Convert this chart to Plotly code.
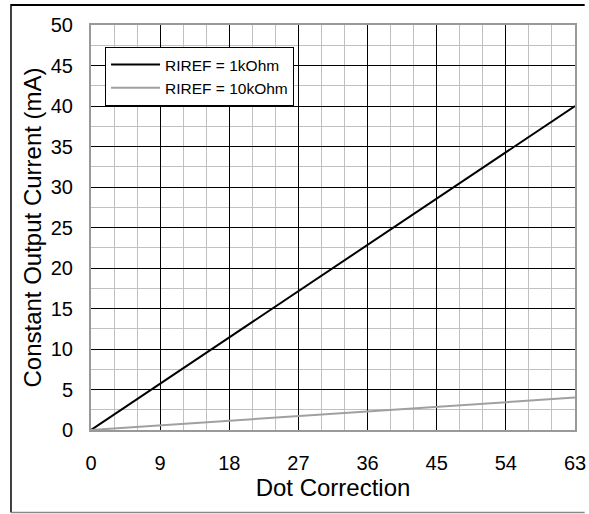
import plotly.graph_objects as go

dot_correction = [0, 63]
current_1k = [0, 40]
current_10k = [0, 4]
x_ticks = [0, 9, 18, 27, 36, 45, 54, 63]
y_ticks = [0, 5, 10, 15, 20, 25, 30, 35, 40, 45, 50]

fig = go.Figure()
fig.add_trace(go.Scatter(x=dot_correction, y=current_1k, mode="lines",
                         name="RIREF = 1kOhm", line=dict(color="#000000", width=2)))
fig.add_trace(go.Scatter(x=dot_correction, y=current_10k, mode="lines",
                         name="RIREF = 10kOhm", line=dict(color="#a0a0a0", width=2)))

font_main = "Liberation Sans, Arial, sans-serif"

fig.update_layout(
    width=589, height=514,
    margin=dict(l=91, r=14, t=25, b=84, autoexpand=False),
    paper_bgcolor="white", plot_bgcolor="white",
    font=dict(family=font_main, color="#000000", size=20),
    showlegend=True,
    legend=dict(x=0.029, y=0.9457, xanchor="left", yanchor="top",
                bgcolor="white", bordercolor="#000000", borderwidth=1,
                font=dict(family=font_main, size=15.5),
                itemwidth=49, tracegroupgap=0),
    xaxis=dict(range=[0, 63], tickvals=x_ticks, ticktext=[str(v) for v in x_ticks],
               showgrid=True, gridcolor="#000000", gridwidth=1,
               minor=dict(dtick=3, tick0=0, showgrid=True, gridcolor="#c0c0c0", gridwidth=1),
               showline=True, linecolor="#999999", linewidth=2, mirror=True,
               zeroline=False, ticks="", ticklabelstandoff=14,
               tickfont=dict(size=20), automargin=False,
               title=dict(text="Dot Correction", font=dict(size=24), standoff=6)),
    yaxis=dict(range=[0, 50], tickvals=y_ticks, ticktext=[str(v) for v in y_ticks],
               showgrid=True, gridcolor="#000000", gridwidth=1,
               minor=dict(dtick=2.5, tick0=0, showgrid=True, gridcolor="#c0c0c0", gridwidth=1),
               showline=True, linecolor="#999999", linewidth=2, mirror=True,
               zeroline=True, zerolinecolor="#000000", zerolinewidth=2,
               ticks="", ticklabelstandoff=12,
               tickfont=dict(size=20), automargin=False,
               title=dict(text="Constant Output Current (mA)", font=dict(size=24), standoff=2)),
    shapes=[
        dict(type="rect", xref="paper", yref="paper", x0=-0.1653, x1=1.02, y0=1.0469, y1=1.0519,
             line=dict(width=0), fillcolor="#000000"),
        dict(type="line", xref="paper", yref="paper", x0=-0.1653, x1=-0.1653, y0=-0.2037, y1=1.0519,
             line=dict(color="#000000", width=1.5)),
        dict(type="line", xref="paper", yref="paper", x0=-0.1653, x1=1.02, y0=-0.2037, y1=-0.2037,
             line=dict(color="#888888", width=1.5)),
    ],
)

fig.write_html("out.html", config={"displayModeBar": False},
               post_script="document.body.style.margin='0px';document.body.style.overflow='hidden';")
